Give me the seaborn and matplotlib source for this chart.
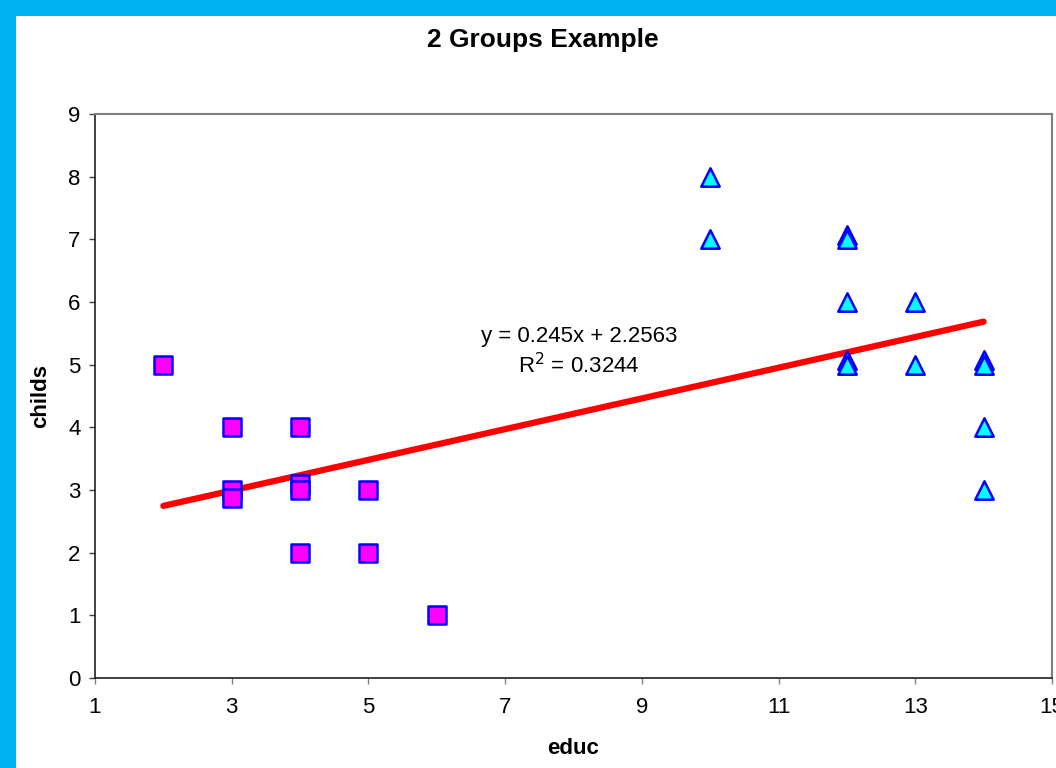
import matplotlib
matplotlib.use("Agg")
import matplotlib.pyplot as plt
import seaborn as sns
import pandas as pd
import numpy as np
from matplotlib.patches import Rectangle

# ---- data ----
educ_g1 = [2, 3, 3, 3, 4, 4, 4, 4, 5, 5, 6]
childs_g1 = [5, 4, 3, 2.88, 4, 3.1, 3, 2, 3, 2, 1]
educ_g2 = [10, 10, 12, 12, 12, 12, 12, 13, 13, 14, 14, 14, 14]
childs_g2 = [8, 7, 7.07, 7, 6, 5.07, 5, 6, 5, 5.07, 5, 4, 3]
group_names = ["Group 1", "Group 2"]
trend_slope = [0.245]
trend_intercept = [2.2563]
trend_r2 = [0.3244]
x_ticks = [1, 3, 5, 7, 9, 11, 13, 15]
y_ticks = [0, 1, 2, 3, 4, 5, 6, 7, 8, 9]

df = pd.DataFrame({
    "educ": educ_g1 + educ_g2,
    "childs": childs_g1 + childs_g2,
    "group": [group_names[0]] * len(educ_g1) + [group_names[1]] * len(educ_g2),
})

sns.set_theme(style="white")
plt.rcParams["font.family"] = ["Liberation Sans", "DejaVu Sans"]
plt.rcParams["text.color"] = "black"
plt.rcParams["axes.labelcolor"] = "black"
plt.rcParams["xtick.color"] = "black"
plt.rcParams["ytick.color"] = "black"

W, H = 1056, 768
fig = plt.figure(figsize=(W / 100, H / 100), dpi=100)
fig.patch.set_facecolor("#00B0F0")
bg = Rectangle((16 / W, 0), 1.0, 1 - 16 / H, transform=fig.transFigure,
               facecolor="white", edgecolor="none", zorder=-10)
fig.patches.append(bg)

ax = fig.add_axes([95 / W, 1 - 678 / H, (1052 - 95) / W, (678 - 114) / H])
ax.set_zorder(1)
ax.set_facecolor("white")

# trend line
xs = np.array([min(df["educ"]), max(df["educ"])], dtype=float)
ax.plot(xs, trend_slope[0] * xs + trend_intercept[0], color="#FF0000", lw=4.5,
        solid_capstyle="round", zorder=3)

sns.scatterplot(data=df[df["group"] == group_names[0]], x="educ", y="childs",
                marker="s", color="#FF00FF", s=150, edgecolor="#0000FF",
                linewidth=1.8, legend=False, ax=ax, zorder=4)
sns.scatterplot(data=df[df["group"] == group_names[1]], x="educ", y="childs",
                marker="^", color="#00FFFF", s=175, edgecolor="#0000FF",
                linewidth=1.8, legend=False, ax=ax, zorder=4)

ax.set_xlim(1, 15)
ax.set_ylim(0, 9)
ax.set_xticks(x_ticks)
ax.set_yticks(y_ticks)
ax.tick_params(axis="both", labelsize=16, labelcolor="black")
ax.tick_params(axis="y", direction="out", length=4.5, width=1, pad=6, left=True, color="#404040")
ax.tick_params(axis="x", direction="out", length=4, width=1, pad=10, bottom=True, color="#808080")

for s in ["left", "bottom"]:
    ax.spines[s].set_color("#202020")
    ax.spines[s].set_linewidth(1.2)
for s in ["top", "right"]:
    ax.spines[s].set_color("#808080")
    ax.spines[s].set_linewidth(1.5)
    ax.spines[s].set_visible(True)

ax.set_xlabel("educ", fontsize=16, fontweight="bold", labelpad=14, color="black")
ax.set_ylabel("childs", fontsize=16, fontweight="bold", labelpad=12, color="black")

ax.text(8.08, 5.2,
        f"y = {trend_slope[0]}x + {trend_intercept[0]}\nR$^2$ = {trend_r2[0]}",
        ha="center", va="center", multialignment="center", fontsize=16,
        linespacing=1.3, zorder=5, color="black")

fig.text(543 / W, 1 - 40 / H, "2 Groups Example", ha="center", va="center",
         fontsize=19, fontweight="bold", color="black")

fig.savefig("out.png", dpi=100, facecolor=fig.get_facecolor())
